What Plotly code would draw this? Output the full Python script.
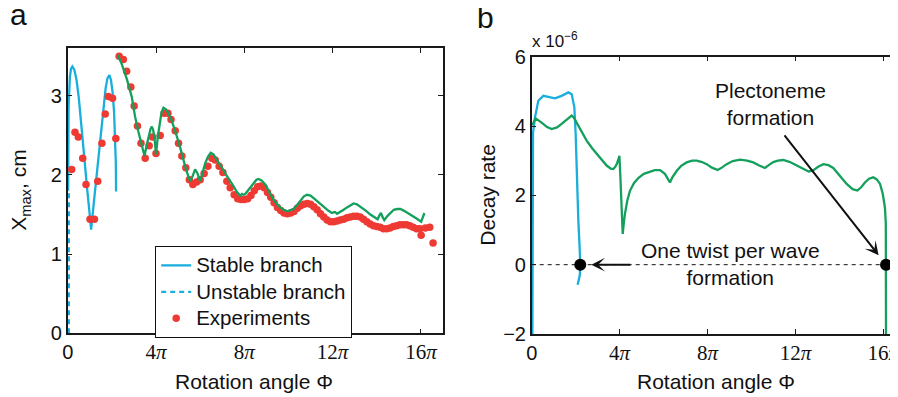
import plotly.graph_objects as go

# ---------------- data (x in units of pi) ----------------
# Panel a
stable_a_x = [0.02, 0.03, 0.04, 0.10, 0.15, 0.21, 0.30, 0.40, 0.50, 0.60, 0.71, 0.80, 0.89, 0.98, 1.06,
              1.15, 1.25, 1.34, 1.42, 1.52, 1.62, 1.72, 1.80, 1.89, 1.96, 2.03, 2.10, 2.15, 2.18, 2.19]
stable_a_y = [1.80, 2.40, 2.86, 3.24, 3.34, 3.37, 3.33, 3.20, 2.98, 2.68, 2.32, 2.06, 1.80, 1.55, 1.31,
              1.56, 1.84, 2.10, 2.32, 2.60, 2.88, 3.10, 3.22, 3.26, 3.20, 3.05, 2.80, 2.50, 2.15, 1.79]
unstable_a_x = [0.05, 0.05]
unstable_a_y = [0.0, 1.80]

theory_a_x = [2.25, 2.29, 2.45, 2.68, 2.90, 3.05, 3.20, 3.36, 3.48, 3.58, 3.66, 3.75, 3.81, 3.87, 3.93, 4.00,
              4.08, 4.16, 4.25, 4.34, 4.45, 4.56, 4.68, 4.79, 4.90, 5.02, 5.13, 5.24, 5.36, 5.47, 5.55,
              5.65, 5.77, 5.88, 6.00, 6.10, 6.22, 6.35, 6.48, 6.60, 6.75, 6.90, 7.06, 7.20, 7.35, 7.51,
              7.65, 7.81, 7.90, 7.96, 8.04, 8.12, 8.27, 8.42, 8.55, 8.64, 8.78, 8.95, 9.12, 9.32, 9.55,
              9.78, 9.95, 10.08, 10.23, 10.39, 10.55, 10.70, 10.84, 11.00, 11.22, 11.40, 11.59, 11.80,
              11.97, 12.06, 12.12, 12.20, 12.35, 12.50, 12.65, 12.80, 12.95, 13.10, 13.26, 13.50, 13.71,
              13.90, 14.04, 14.12, 14.19, 14.26, 14.34, 14.48, 14.62, 14.77, 14.92, 15.07, 15.22, 15.40,
              15.60, 15.80, 16.01, 16.08, 16.16]
theory_a_y = [3.49, 3.50, 3.40, 3.21, 2.99, 2.74, 2.55, 2.36, 2.24, 2.38, 2.49, 2.58, 2.61, 2.57, 2.47, 2.26,
              2.48, 2.66, 2.79, 2.85, 2.83, 2.78, 2.71, 2.62, 2.53, 2.42, 2.31, 2.19, 2.07, 1.98, 1.92,
              1.98, 2.07, 2.02, 1.92, 2.02, 2.14, 2.23, 2.28, 2.26, 2.20, 2.13, 2.06, 1.99, 1.93, 1.86,
              1.79, 1.74, 1.76, 1.75, 1.76, 1.79, 1.85, 1.90, 1.94, 1.95, 1.93, 1.88, 1.80, 1.69, 1.61,
              1.56, 1.54, 1.55, 1.57, 1.62, 1.68, 1.73, 1.75, 1.74, 1.69, 1.64, 1.60, 1.55,
              1.52, 1.53, 1.53, 1.51, 1.53, 1.56, 1.59, 1.62, 1.64, 1.63, 1.60, 1.55, 1.50,
              1.46, 1.44, 1.49, 1.52, 1.47, 1.43, 1.48, 1.52, 1.56, 1.57, 1.57, 1.55, 1.52,
              1.49, 1.45, 1.41, 1.46, 1.52]

exp_x = [0.18, 0.33, 0.48, 0.68, 0.83, 1.01, 1.21, 1.36, 1.55, 1.70, 1.84, 2.03, 2.18,
         2.33, 2.52, 2.67, 2.86, 3.01, 3.16, 3.32, 3.51, 3.69, 3.84, 4.00, 4.19, 4.37, 4.54, 4.68, 4.87,
         5.02, 5.17, 5.35, 5.51, 5.67, 5.84, 6.00, 6.18, 6.35, 6.53, 6.68, 6.86, 7.03, 7.21, 7.36, 7.54,
         7.70, 7.85, 8.00, 8.15, 8.30, 8.45, 8.60, 8.75, 8.90, 9.05, 9.20, 9.35, 9.50, 9.65, 9.80, 9.95,
         10.10, 10.25, 10.40, 10.55, 10.70, 10.85, 11.00, 11.15, 11.30, 11.45, 11.60, 11.75, 11.90, 12.05,
         12.20, 12.35, 12.50, 12.65, 12.80, 12.95, 13.10, 13.25, 13.40, 13.55, 13.70, 13.85, 14.00, 14.15,
         14.30, 14.45, 14.60, 14.75, 14.90, 15.05, 15.20, 15.35, 15.50, 15.65, 15.80, 15.95, 16.01, 16.20,
         16.40, 16.55]
exp_y = [2.07, 2.54, 2.48, 2.21, 1.88, 1.44, 1.44, 1.92, 2.40, 2.77, 2.99, 2.97, 2.46,
         3.50, 3.46, 3.31, 3.11, 2.87, 2.62, 2.40, 2.21, 2.37, 2.48, 2.27, 2.50, 2.78, 2.78, 2.70, 2.56,
         2.40, 2.24, 2.09, 1.94, 1.88, 1.91, 1.94, 2.02, 2.11, 2.21, 2.19, 2.11, 2.03, 1.92, 1.84, 1.75,
         1.70, 1.69, 1.69, 1.70, 1.74, 1.80, 1.85, 1.86, 1.84, 1.78, 1.72, 1.65, 1.59, 1.55, 1.52, 1.51,
         1.52, 1.54, 1.58, 1.61, 1.63, 1.64, 1.63, 1.60, 1.56, 1.51, 1.47, 1.43, 1.41, 1.41,
         1.42, 1.43, 1.44, 1.46, 1.47, 1.48, 1.48, 1.47, 1.44, 1.41, 1.38, 1.36, 1.35, 1.34,
         1.32, 1.32, 1.33, 1.35, 1.36, 1.37, 1.37, 1.37, 1.36, 1.34, 1.32, 1.32, 1.24, 1.33,
         1.34, 1.14]

# Panel b (decay rate, x 1e-6)
stable_b_x = [0.03, 0.03, 0.06, 0.15, 0.30, 0.53, 0.76, 1.06, 1.36, 1.67, 1.82, 1.94, 2.00, 2.05,
              2.12, 2.18, 2.21, 2.19, 2.09]
stable_b_y = [-2.2, 3.19, 3.80, 4.25, 4.73, 4.87, 4.83, 4.80, 4.87, 4.97, 4.92, 4.54, 3.77, 2.42,
              1.30, 0.50, 0.00, -0.30, -0.58]

plect_b_x = [0.02, 0.18, 0.45, 0.70, 0.91, 1.15, 1.36, 1.60, 1.82, 1.92, 2.05, 2.25, 2.50, 2.75, 2.96,
             3.20, 3.41, 3.60, 3.71, 3.80, 3.87, 3.95, 3.99, 4.03, 4.07, 4.14, 4.19, 4.24, 4.35, 4.47,
             4.65, 4.85, 5.10, 5.38, 5.60, 5.84, 6.06, 6.20, 6.29, 6.40, 6.60, 6.80, 7.05, 7.30, 7.51,
             7.75, 7.96, 8.20, 8.46, 8.65, 8.87, 9.15, 9.48, 9.80, 10.08, 10.35, 10.61, 10.80, 10.99,
             11.20, 11.45, 11.75, 12.06, 12.35, 12.60, 12.80, 13.05, 13.27, 13.50, 13.72, 13.95, 14.15,
             14.33, 14.60, 14.82, 15.00, 15.16, 15.35, 15.54, 15.70, 15.85, 15.97, 16.07, 16.11, 16.12,
             16.12]
plect_b_y = [4.02, 4.22, 4.10, 3.97, 3.91, 3.96, 4.06, 4.20, 4.30, 4.24, 4.10, 3.85, 3.58, 3.36, 3.19,
             3.01, 2.86, 2.77, 2.76, 2.82, 2.90, 3.05, 3.14, 2.60, 1.90, 0.89, 1.20, 1.46, 1.85, 2.13,
             2.35, 2.50, 2.62, 2.69, 2.73, 2.73, 2.62, 2.47, 2.37, 2.52, 2.71, 2.85, 2.95, 3.00, 3.00,
             2.96, 2.90, 2.80, 2.73, 2.80, 2.90, 2.99, 3.03, 3.00, 2.95, 2.86, 2.79, 2.88, 2.96,
             3.00, 3.02, 2.96, 2.86, 2.76, 2.69, 2.72, 2.83, 2.90, 2.87, 2.79, 2.62, 2.45,
             2.33, 2.18, 2.14, 2.24, 2.37, 2.48, 2.52, 2.46, 2.33, 2.05, 1.65, 1.20, 0.50,
             -2.20]

onset_x = [2.21, 16.12]
onset_y = [0.0, 0.0]

tick_vals = [0, 4, 8, 12, 16]
tick_text = ["0"] + ['<span style="font-family:\'Liberation Serif\', \'DejaVu Serif\', serif; font-size:21px;">%d<i>π</i></span>' % v
                     for v in tick_vals[1:]]

legend_names = ["Stable branch", "Unstable branch", "Experiments"]

# ---------------- styling ----------------
# The page body adds an 8px offset, so the figure is drawn 8px smaller and all
# reference pixel positions are shifted by 8px.
OFF = 8
W, H = 898 - OFF, 397 - OFF
BLUE = "#19AEDB"
GREEN = "#14A05C"
RED = "#EE3A33"
FONT = "Liberation Sans, Arial, Helvetica, sans-serif"
AX = "#1a1a1a"


def px_x(p):
    return (p - OFF) / W


def px_y(p):
    return 1 - (p - OFF) / H


def big(s):
    return '<span style="font-size:20.5px;">%s</span>' % s


fig = go.Figure()

fig.add_trace(go.Scatter(x=stable_a_x, y=stable_a_y, mode="lines", name=big(legend_names[0]),
                         line=dict(color=BLUE, width=2.3), xaxis="x", yaxis="y"))
fig.add_trace(go.Scatter(x=unstable_a_x, y=unstable_a_y, mode="lines", name=big(legend_names[1]),
                         line=dict(color=BLUE, width=2.3, dash="5px,4px"), xaxis="x", yaxis="y"))
fig.add_trace(go.Scatter(x=exp_x, y=exp_y, mode="markers", name=big(legend_names[2]),
                         marker=dict(color=RED, size=7.5), xaxis="x", yaxis="y"))
fig.add_trace(go.Scatter(x=theory_a_x, y=theory_a_y, mode="lines", showlegend=False,
                         line=dict(color=GREEN, width=2.3), xaxis="x", yaxis="y"))

fig.add_trace(go.Scatter(x=stable_b_x, y=stable_b_y, mode="lines", showlegend=False,
                         line=dict(color=BLUE, width=2.3), xaxis="x2", yaxis="y2"))
fig.add_trace(go.Scatter(x=plect_b_x, y=plect_b_y, mode="lines", showlegend=False,
                         line=dict(color=GREEN, width=2.3), xaxis="x2", yaxis="y2"))
fig.add_trace(go.Scatter(x=onset_x, y=onset_y, mode="markers", showlegend=False,
                         marker=dict(color="black", size=12), xaxis="x2", yaxis="y2"))

common_axis = dict(showgrid=False, zeroline=False, showline=True, linecolor=AX, linewidth=1.5,
                   ticks="inside", ticklen=5, tickwidth=1.3, tickcolor=AX,
                   tickfont=dict(family=FONT, size=20, color="#111"))

fig.update_layout(
    width=W, height=H,
    margin=dict(l=0, r=0, t=0, b=0, autoexpand=False),
    paper_bgcolor="white", plot_bgcolor="white",
    font=dict(family=FONT, size=21, color="#111"),
    xaxis=dict(domain=[px_x(67.7), px_x(443)], range=[0, 17], tickvals=tick_vals, ticktext=tick_text,
               mirror="ticks", anchor="y", **common_axis),
    yaxis=dict(domain=[px_y(333.3), px_y(48.3)], range=[0, 3.6], tickvals=[0, 1, 2, 3],
               mirror="ticks", anchor="x", **common_axis),
    xaxis2=dict(domain=[px_x(531.7), 1.0], range=[0, (898 - 531.7) / 21.98], tickvals=tick_vals,
                ticktext=tick_text, mirror="ticks", anchor="y2", ticklabeloverflow="allow",
                **common_axis),
    yaxis2=dict(domain=[px_y(334), px_y(56.7)], range=[-2, 6], tickvals=[-2, 0, 2, 4, 6],
                mirror=False, anchor="x2", **common_axis),
    legend=dict(x=px_x(155), y=px_y(246), xanchor="left", yanchor="top",
                bordercolor="#111", borderwidth=1.2, bgcolor="white",
                font=dict(family=FONT, size=18, color="#111"), tracegroupgap=0, itemwidth=30),
    shapes=[dict(type="line", xref="x2 domain", x0=0, x1=1, yref="y2", y0=0, y1=0,
                 line=dict(color="#111", width=1, dash="4px,4px"), layer="below")],
)

ann = []
# panel labels
ann.append(dict(text="a", x=px_x(18), y=px_y(15), xref="paper", yref="paper", showarrow=False,
                font=dict(size=30, family=FONT, color="#111"), xanchor="center", yanchor="middle"))
ann.append(dict(text="b", x=px_x(485.5), y=px_y(17), xref="paper", yref="paper", showarrow=False,
                font=dict(size=30, family=FONT, color="#111"), xanchor="center", yanchor="middle"))
# exponent label
ann.append(dict(text="x 10<sup>−6</sup>", x=px_x(530), y=px_y(53), xref="paper", yref="paper",
                showarrow=False, font=dict(size=17, family=FONT, color="#111"),
                xanchor="left", yanchor="bottom"))
# axis titles
ann.append(dict(text="X<sub>max</sub>, cm", x=px_x(20), y=px_y(190.8), xref="paper", yref="paper",
                showarrow=False, textangle=-90, xanchor="center", yanchor="middle",
                font=dict(size=21, family=FONT, color="#111")))
ann.append(dict(text="Decay rate", x=px_x(486.7), y=px_y(195), xref="paper", yref="paper",
                showarrow=False, textangle=-90, xanchor="center", yanchor="middle",
                font=dict(size=21, family=FONT, color="#111")))
ann.append(dict(text="Rotation angle Φ", x=px_x(254), y=px_y(381), xref="paper", yref="paper",
                showarrow=False, xanchor="center", yanchor="middle",
                font=dict(size=21, family=FONT, color="#111")))
ann.append(dict(text="Rotation angle Φ", x=px_x(716), y=px_y(381), xref="paper", yref="paper",
                showarrow=False, xanchor="center", yanchor="middle",
                font=dict(size=21, family=FONT, color="#111")))
# callouts
ann.append(dict(text="Plectoneme<br>formation", x=px_x(770), y=px_y(103.5), xref="paper", yref="paper",
                showarrow=False, xanchor="center", yanchor="middle",
                font=dict(size=21, family=FONT, color="#111")))
ann.append(dict(text="One twist per wave<br>formation", x=px_x(730), y=px_y(264), xref="paper",
                yref="paper", showarrow=False, xanchor="center", yanchor="middle",
                font=dict(size=21, family=FONT, color="#111")))
ann.append(dict(text="", x=onset_x[1], y=onset_y[1], xref="x2", yref="y2", showarrow=True,
                ax=-102.7, ay=-130.7, arrowhead=3, arrowsize=1.15, arrowwidth=2, arrowcolor="#111",
                standoff=12))
ann.append(dict(text="", x=onset_x[0], y=onset_y[0], xref="x2", yref="y2", showarrow=True,
                ax=51.7, ay=0, arrowhead=3, arrowsize=1.15, arrowwidth=2, arrowcolor="#111",
                standoff=11))
fig.update_layout(annotations=ann)

fig.write_html("out.html")
